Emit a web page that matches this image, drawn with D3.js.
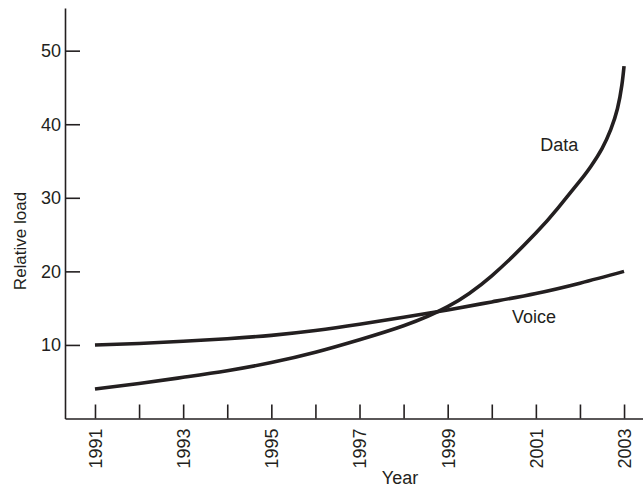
<!DOCTYPE html>
<html>
<head>
<meta charset="utf-8">
<script src="https://cdn.jsdelivr.net/npm/d3@7/dist/d3.min.js"></script>
<style>
  html, body { margin: 0; padding: 0; background: #fff; }
  svg { display: block; }
  text { font-family: "Liberation Sans", Arial, Helvetica, sans-serif; fill: #231f20; }
</style>
</head>
<body>
<svg id="chart" width="643" height="489"></svg>
<script>
// ---- data ----
const years = [1991, 1992, 1993, 1994, 1995, 1996, 1997, 1998, 1999, 2000, 2001, 2002, 2003];
const tickLabels = ["1991", "1993", "1995", "1997", "1999", "2001", "2003"];
const yTicks = [10, 20, 30, 40, 50];

const dataYears  = [1991, 1992, 1993, 1994, 1995, 1996, 1997, 1998, 1999, 2000, 2001, 2001.5, 2002, 2002.25, 2002.5, 2002.7, 2002.85, 2002.95, 2003];
const dataValues = [4.0, 4.75, 5.6, 6.5, 7.6, 9.0, 10.7, 12.6, 15.2, 19.4, 25.2, 28.6, 32.3, 34.3, 36.7, 39.3, 42.1, 45.3, 47.9];

const voiceYears  = [1991, 1992, 1993, 1994, 1995, 1996, 1997, 1998, 1999, 2000, 2001, 2002, 2003];
const voiceValues = [10.0, 10.2, 10.5, 10.85, 11.3, 11.95, 12.8, 13.75, 14.75, 15.85, 17.0, 18.4, 20.0];

const seriesLabels = ["Data", "Voice"];
const xTitle = "Year";
const yTitle = "Relative load";

// ---- chart ----
const svg = d3.select("#chart");
const ink = "#231f20";

const x = d3.scaleLinear().domain([1990.32, 2003.43]).range([65, 643]);
const y = d3.scaleLinear().domain([0, 55.8]).range([418.5, 8]);

// x axis
const xAxis = d3.axisBottom(x)
  .tickValues(years)
  .tickSizeInner(-14)
  .tickSizeOuter(0)
  .tickFormat(d => tickLabels.includes(String(d)) ? String(d) : "");
const gx = svg.append("g").attr("transform", `translate(0,${y(0)})`).call(xAxis);
gx.select(".domain").attr("stroke", ink).attr("stroke-width", 1.6);
gx.selectAll(".tick line").attr("stroke", ink).attr("stroke-width", 1.6);
gx.selectAll(".tick text")
  .attr("x", 0).attr("y", 0).attr("dy", "0.35em")
  .attr("transform", "translate(0,10) rotate(-90)")
  .attr("text-anchor", "end")
  .style("font-size", "18px")
  .style("font-family", "Liberation Sans, Arial, sans-serif")
  .attr("fill", ink);

// y axis
const yAxis = d3.axisLeft(y)
  .tickValues(yTicks)
  .tickSizeInner(-15)
  .tickSizeOuter(0)
  .tickPadding(4);
const gy = svg.append("g").attr("transform", `translate(${x.range()[0]},0)`).call(yAxis);
gy.select(".domain").attr("stroke", ink).attr("stroke-width", 1.6);
gy.selectAll(".tick line").attr("stroke", ink).attr("stroke-width", 1.6);
gy.selectAll(".tick text")
  .style("font-size", "18px")
  .style("font-family", "Liberation Sans, Arial, sans-serif")
  .attr("fill", ink);

// lines
const line = d3.line().x(d => x(d[0])).y(d => y(d[1])).curve(d3.curveNatural);
const dataPts = dataYears.map((yr, i) => [yr, dataValues[i]]);
const voicePts = voiceYears.map((yr, i) => [yr, voiceValues[i]]);

svg.append("path").datum(voicePts).attr("d", line)
  .attr("fill", "none").attr("stroke", ink).attr("stroke-width", 3.6);
svg.append("path").datum(dataPts).attr("d", line)
  .attr("fill", "none").attr("stroke", ink).attr("stroke-width", 3.6);

// series labels
svg.append("text").attr("x", x(2001.1)).attr("y", y(36.3))
  .style("font-size", "18px").text(seriesLabels[0]);
svg.append("text").attr("x", x(2000.46)).attr("y", y(13.0))
  .style("font-size", "18px").text(seriesLabels[1]);

// axis titles
svg.append("text").attr("x", 400).attr("y", 484)
  .attr("text-anchor", "middle").style("font-size", "18px").text(xTitle);
svg.append("text")
  .attr("transform", "translate(26,241) rotate(-90)")
  .attr("text-anchor", "middle").style("font-size", "17px").text(yTitle);
</script>
</body>
</html>
